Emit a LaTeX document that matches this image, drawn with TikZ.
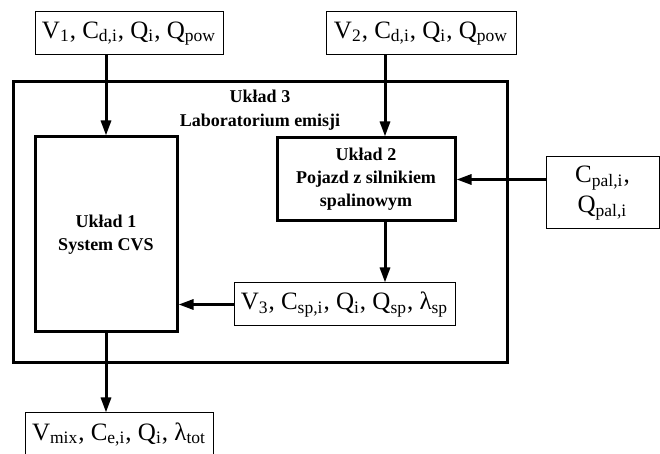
\documentclass[tikz,border=0pt]{standalone}
\usepackage{fontspec}
\setmainfont{Liberation Serif}
\usetikzlibrary{arrows.meta,positioning}
\begin{document}
\begin{tikzpicture}[
 x=0.5pt,y=-0.5pt,
 param/.style={rectangle,draw,line width=0.5pt,inner sep=0pt,align=center,font=\fontsize{12.5}{15}\selectfont},
 unit/.style={rectangle,draw,line width=1.5pt,inner sep=0pt,align=center,font=\fontsize{9}{11.5}\selectfont\bfseries},
 flow/.style={-{Triangle[length=7.5pt,width=5pt]},line width=1.5pt}
]
\useasboundingbox (0,0) rectangle (660,454);
\node[param,minimum width=94pt,minimum height=21.5pt] (in1) at (129,33.5) {V\textsubscript{1}, C\textsubscript{d,i}, Q\textsubscript{i}, Q\textsubscript{pow}};
\node[param,minimum width=95pt,minimum height=21.5pt] (in2) at (421,33.5) {V\textsubscript{2}, C\textsubscript{d,i}, Q\textsubscript{i}, Q\textsubscript{pow}};
\node[unit,minimum width=247pt,minimum height=140.5pt] (lab) at (260,222.5) {};
\node[font=\fontsize{9}{12}\selectfont\bfseries,align=center] (labname) at (260,110) {Układ 3\\Laboratorium emisji};
\node[unit,minimum width=71pt,minimum height=97.5pt] (cvs) at (106,234.5) {Układ 1\\System CVS};
\node[unit,minimum width=89pt,minimum height=41.5pt] (veh) at (366,179.5) {Układ 2\\Pojazd z silnikiem\\spalinowym};
\node[param,minimum width=56.5pt,minimum height=36pt] (fuel) at (602.5,193) {C\textsubscript{pal,i},\\Q\textsubscript{pal,i}};
\node[param,minimum width=110.5pt,minimum height=21.5pt] (exh) at (344.5,304.5) {V\textsubscript{3}, C\textsubscript{sp,i}, Q\textsubscript{i}, Q\textsubscript{sp}, λ\textsubscript{sp}};
\node[param,minimum width=94pt,minimum height=21.5pt] (mix) at (119,434.5) {V\textsubscript{mix}, C\textsubscript{e,i}, Q\textsubscript{i}, λ\textsubscript{tot}};
\coordinate (c2) at (385,0);
\draw[flow] (cvs.north |- in1.south) -- (cvs.north);
\draw[flow] (in2.south -| c2) -- (veh.north -| c2);
\draw[flow] (fuel.west |- veh.east) -- (veh.east);
\draw[flow] (veh.south -| c2) -- (exh.north -| c2);
\draw[flow] (exh.west) -- (exh.west -| cvs.east);
\draw[flow] (cvs.south) -- (cvs.south |- mix.north);
\end{tikzpicture}
\end{document}
